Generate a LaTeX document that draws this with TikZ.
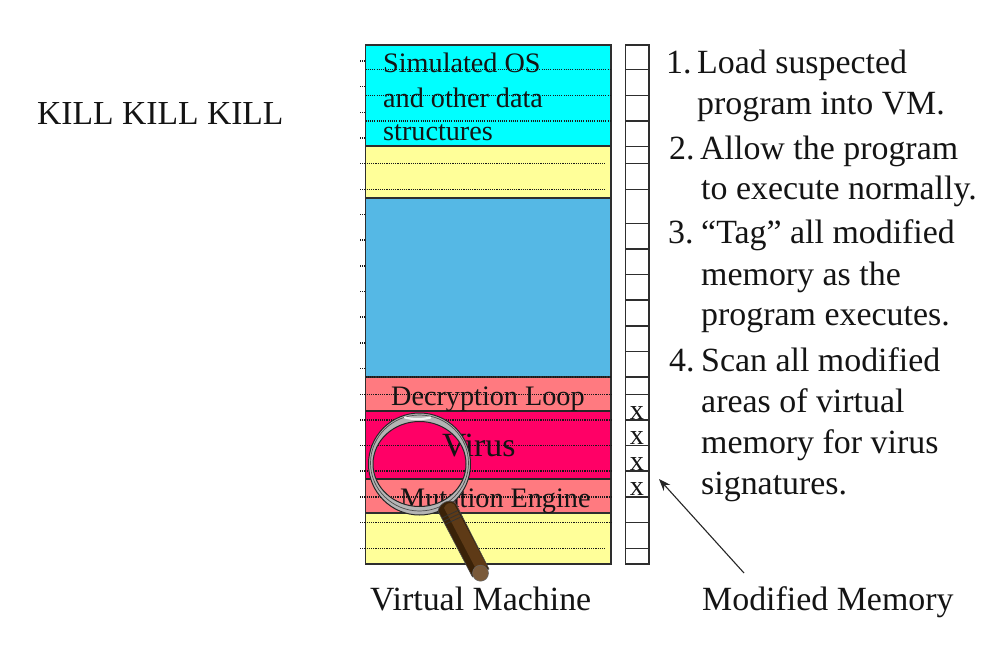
\documentclass[tikz,border=0pt]{standalone}
\usepackage{fontspec}
\usetikzlibrary{arrows.meta}
\setmainfont{Liberation Serif}
\definecolor{cyanfill}{HTML}{00FFFF}
\definecolor{yellowfill}{HTML}{FFFF99}
\definecolor{bluefill}{HTML}{55B8E5}
\definecolor{salmonfill}{HTML}{FF7A80}
\definecolor{virusfill}{HTML}{FF0066}
\definecolor{frame}{HTML}{2E2E2E}
\definecolor{woodmid}{HTML}{5E3A16}
\definecolor{wooddark}{HTML}{3A2208}
\definecolor{woodend}{HTML}{7A5A3A}
\definecolor{ringgray}{HTML}{B4B4B4}
\tikzset{
  x=1pt,y=-1pt,
  big/.style={font=\fontsize{33.9}{36}\selectfont,anchor=base west,inner sep=0pt,text=black!92},
  small/.style={font=\fontsize{28.2}{30}\selectfont,anchor=base west,inner sep=0pt,text=black!92},
  smallc/.style={font=\fontsize{28.2}{30}\selectfont,anchor=base,inner sep=0pt,text=black!92},
  dotline/.style={line width=1.2pt,black!90,dash pattern=on 1.1pt off 1.1pt},
  band/.style={draw=frame,line width=1.6pt},
  cell/.style={draw=frame,line width=1.5pt},
}
\begin{document}
\begin{tikzpicture}
\useasboundingbox (0,0) rectangle (1007,661);
\fill[white] (0,0) rectangle (1007,661);
% bands
\draw[band,fill=cyanfill] (365.5,45) rectangle (611,146);
\draw[band,fill=yellowfill] (365.5,146) rectangle (611,198);
\draw[band,fill=bluefill] (365.5,198) rectangle (611,377);
\draw[band,fill=salmonfill] (365.5,377) rectangle (611,411);
\draw[band,fill=virusfill] (365.5,411) rectangle (611,479);
\draw[band,fill=salmonfill] (365.5,479) rectangle (611,513);
\draw[band,fill=yellowfill] (365.5,513) rectangle (611,564);
\draw[black!85,line width=2.4pt] (365.5,411) -- (611,411) (365.5,479) -- (611,479);
% dotted rows
\foreach \y in {69.7,95.3,121} \draw[dotline] (365.5,\y) -- (611,\y);
\foreach \y in {163.3,189.3,548.3} \draw[dotline] (360,\y) -- (606,\y);
\foreach \y in {394.3,420,445.6,471,497,522.7} \draw[dotline] (360,\y) -- (611,\y);
\draw[dotline] (365.5,377) -- (611,377);
\foreach \y in {61,86.7,112.3,138,214.3,240,266,291.5,317,343,368.5} \draw[dotline] (360,\y) -- (365,\y);
% memory column
\draw[cell,fill=white] (625.5,45) rectangle (649,564);
\foreach \y in {69.7,95.3,121,146.3,163.3,189.3,223.3,249,274.7,300,326,351.7,377,394.3,420,445.6,471,497,522.7,548.3}
  \draw[cell] (625.5,\y) -- (649,\y);
\foreach \n/\y in {a/419.5,b/444.5,c/470,d/495}
  \node[smallc] (x\n) at (637,\y) {x};
% left text
\node[big,font=\fontsize{33.6}{36}\selectfont] (kill) at (37,124.5) {KILL KILL KILL};
% band text
\node[small] (os1) at (383,73) {Simulated OS};
\node[small] (os2) at (383,107) {and other data};
\node[small] (os3) at (383,140) {structures};
\node[small] (dec) at (391,405) {Decryption Loop};
\node[big] (vir) at (442,456) {Virus};
\node[small] (mut) at (400,507) {Mutation Engine};
% list
\node[big] (l1a) at (666,74) {1.};
\node[big] (l1b) at (697,74) {Load suspected};
\node[big] (l1c) at (697,114) {program into VM.};
\node[big] (l2a) at (669,159) {2.};
\node[big] (l2b) at (700,159) {Allow the program};
\node[big] (l2c) at (701,199) {to execute normally.};
\node[big] (l3a) at (668,243) {3.};
\node[big] (l3b) at (701,243) {“Tag” all modified};
\node[big] (l3c) at (701,285) {memory as the};
\node[big] (l3d) at (701,325) {program executes.};
\node[big] (l4a) at (669,371) {4.};
\node[big] (l4b) at (701,371) {Scan all modified};
\node[big] (l4c) at (701,412) {areas of virtual};
\node[big] (l4d) at (701,453) {memory for virus};
\node[big] (l4e) at (701,494) {signatures.};
% captions
\node[big] (vm) at (370,610) {Virtual Machine};
\node[big] (mm) at (702,610) {Modified Memory};
\coordinate (arrowfrom) at (744,573);
\coordinate (arrowto) at (659,479);
\draw[line width=1.1pt,black!85,-{Stealth[length=12pt,width=9pt]}] (arrowfrom) -- (arrowto);
% magnifier ring
\fill[ringgray,even odd rule,draw=black!85,line width=1pt]
  (419.5,464) ellipse [x radius=51,y radius=51]
  (419.5,464) ellipse [x radius=46.5,y radius=42.5];
\draw[black!70,line width=0.7pt] (419.5,463) ellipse [x radius=49,y radius=48];
\draw[white!90!gray,line width=2.2pt,line cap=round] (405,417.5) arc[start angle=105,end angle=75,x radius=49,y radius=47];
% magnifier handle
\fill[wooddark,draw=black!70,line width=0.6pt,line join=round]
  (438,511) -- (472.5,577) -- (489,569) -- (456,504)
  .. controls (451,498) and (440,502) .. (438,511) -- cycle;
\fill[woodmid] (444,508) -- (477,571) -- (487,566) -- (454,504) .. controls (450,502) and (446,503) .. (444,508) -- cycle;
\foreach \t in {0,3,6}
  \draw[black!80,line width=0.8pt] (442+\t*0.55,518+\t*1.05) -- (459+\t*0.55,510+\t*1.05);
\fill[woodend,draw=black!60,line width=0.5pt] (480.5,573.2) circle (8);
\end{tikzpicture}
\end{document}
